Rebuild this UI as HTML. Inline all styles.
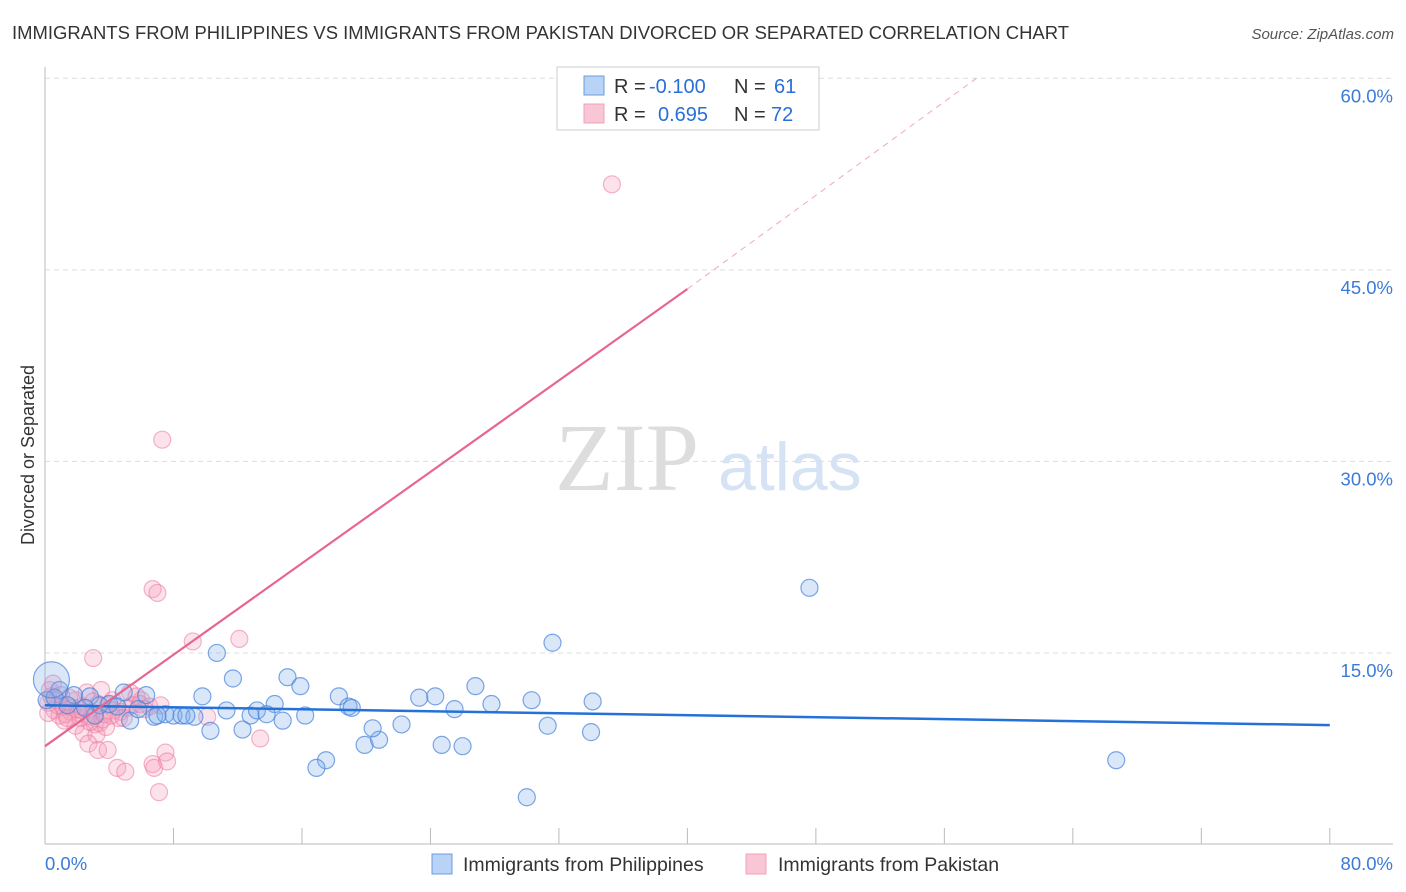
<!DOCTYPE html>
<html><head><meta charset="utf-8"><style>
body{margin:0;background:#fff;font-family:"Liberation Sans",sans-serif;}
svg{display:block}
</style></head><body>
<svg id="c" width="1406" height="892" xmlns="http://www.w3.org/2000/svg">
<text x="12" y="39" font-size="18" fill="#333" textLength="1057" lengthAdjust="spacingAndGlyphs">IMMIGRANTS FROM PHILIPPINES VS IMMIGRANTS FROM PAKISTAN DIVORCED OR SEPARATED CORRELATION CHART</text>
<text x="1394" y="39" font-size="15" fill="#555" font-style="italic" text-anchor="end">Source: ZipAtlas.com</text>
<text x="555" y="490" font-size="96" fill="#ddd" font-family="Liberation Serif">ZIP</text>
<text x="718" y="490" font-size="68" fill="#d5e3f5">atlas</text>
<text transform="translate(34,455) rotate(-90)" font-size="18" fill="#333" text-anchor="middle">Divorced or Separated</text>
<g id="grid"></g><g id="pts"></g><g id="lines"></g>
<g>
<rect x="557" y="67" width="262" height="63" fill="#fff" stroke="#ccc"/>
<rect x="584" y="76" width="20" height="19" fill="#b8d3f5" stroke="#6b9de0"/>
<rect x="584" y="104" width="20" height="19" fill="#f9c6d6" stroke="#f0a0b8"/>
<text x="614" y="93" font-size="20" fill="#333">R = <tspan fill="#2a6fd6" x="649">-0.100</tspan><tspan x="734">N = </tspan><tspan fill="#2a6fd6" x="774">61</tspan></text>
<text x="614" y="121" font-size="20" fill="#333">R = <tspan fill="#2a6fd6" x="658">0.695</tspan><tspan x="734">N = </tspan><tspan fill="#2a6fd6" x="771">72</tspan></text>
</g>
<g>
<rect x="432" y="854" width="20" height="20" fill="#b8d3f5" stroke="#6b9de0"/>
<text x="463" y="871" font-size="19.5" fill="#333">Immigrants from Philippines</text>
<rect x="746" y="854" width="20" height="20" fill="#f9c6d6" stroke="#f0a0b8"/>
<text x="778" y="871" font-size="19.5" fill="#333">Immigrants from Pakistan</text>
</g>
</svg>
<script>
const yTicks=[15,30,45,60];
const yTickLabels=["15.0%","30.0%","45.0%","60.0%"];
const xEndLabels=["0.0%","80.0%"];
const blueX=[10.7,11.7,15.1,15.9,9.8,11.3,12.8,13.2,14.3,13.8,14.8,16.2,18.3,18.9,19.1,19.9,20.8,20.4,17.5,16.9,22.2,23.3,24.3,25.5,26.0,24.7,26.8,27.8,30.3,31.3,30.0,31.6,34.1,34.0,47.6,66.7,0.9,1.8,2.8,4.9,6.3,6.8,7.5,8.0,8.5,9.3,5.3,10.3,12.3,5.8,3.4,4.0,4.5,3.1,1.4,0.1,0.6,2.5,8.8,7.0];
const blueY=[15.0,13.0,13.1,12.4,11.6,10.5,10.1,10.5,11.0,10.2,9.7,10.1,11.6,10.8,10.7,7.8,8.2,9.1,6.6,6.0,9.4,11.5,11.6,10.6,7.7,7.8,12.4,11.0,11.3,9.3,3.7,15.8,11.2,8.8,20.1,6.6,12.1,11.7,11.6,11.9,11.7,10.0,10.2,10.1,10.1,10.0,9.7,8.9,9.0,10.6,10.9,11.0,10.8,10.1,10.9,11.3,11.5,10.7,10.1,10.1];
const pinkX=[35.3,7.3,6.7,7.0,9.2,12.1,3.0,1.9,2.6,3.3,3.9,5.3,5.7,6.0,6.5,7.2,0.3,0.2,0.6,0.9,1.2,1.6,2.2,2.7,3.1,3.4,2.4,3.2,2.7,3.3,3.9,4.5,5.0,6.7,6.8,7.5,7.6,7.1,10.1,13.4,4.7,5.4,3.5,4.2,0.7,1.7,1.1,0.4,1.3,2.0,2.9,3.6,4.3,5.1,5.9,0.5,1.5,2.1,2.8,3.7,4.6,0.8,1.0,1.9,2.3,3.0,4.1,4.9,6.2,0.2,1.4,3.8];
const pinkY=[51.7,31.7,20.0,19.7,15.9,16.1,14.6,11.3,11.9,11.0,10.9,11.9,11.6,11.3,10.8,10.9,12.1,11.1,10.5,10.1,9.7,10.4,9.9,10.1,9.4,9.5,8.7,8.6,7.9,7.4,7.4,6.0,5.7,6.3,6.0,7.2,6.5,4.1,10.0,8.3,10.4,10.9,12.1,11.3,11.3,10.7,10.8,11.6,10.2,10.6,10.0,9.8,10.5,10.7,11.0,12.6,11.5,10.3,9.6,10.2,9.9,10.9,11.7,9.3,10.8,11.2,10.1,9.9,10.6,10.3,9.9,9.2];
const blueLine=[[0,10.9],[80,9.35]];
const pinkLine=[[0,7.7],[40,43.5]];
const pinkDash=[[40,43.5],[58,60.0]];
const NS="http://www.w3.org/2000/svg";
const X=v=>45+v*16.06, Y=v=>844.5-v*12.77;
function mk(t,a,p){const e=document.createElementNS(NS,t);for(const k in a)e.setAttribute(k,a[k]);p.appendChild(e);return e;}
const grid=document.getElementById('grid');
yTicks.forEach((t,i)=>{
 const l=mk('line',{x1:45,x2:1393,y1:Y(t),y2:Y(t),stroke:'#ddd','stroke-dasharray':'5,4'},grid);
 
 
 const tx=mk('text',{x:1393,y:Y(t)+24,'font-size':18.5,fill:'#3b7bd8','text-anchor':'end'},grid);
 tx.textContent=yTickLabels[i];
 
 
});
const ax=mk('line',{x1:45,x2:1393,y1:844,y2:844,stroke:'#bbb'},grid);


const ay=mk('line',{x1:45,x2:45,y1:67,y2:844,stroke:'#bbb'},grid);


for(let i=0;i<=10;i++){const t=mk('line',{x1:X(i*8),x2:X(i*8),y1:828,y2:844,stroke:'#bbb'},grid);
 
 }
const l0=mk('text',{x:45,y:870,'font-size':18.5,fill:'#3b7bd8'},grid);l0.textContent=xEndLabels[0];


const l1=mk('text',{x:1393,y:870,'font-size':18.5,fill:'#3b7bd8','text-anchor':'end'},grid);l1.textContent=xEndLabels[1];


const pts=document.getElementById('pts');
pinkX.forEach((x,i)=>{const c=mk('circle',{cx:X(x),cy:Y(pinkY[i]),r:8.5,fill:'rgba(244,160,188,0.3)',stroke:'rgba(236,120,160,0.55)','stroke-width':1.2},pts);
 
 });
blueX.forEach((x,i)=>{const c=mk('circle',{cx:X(x),cy:Y(blueY[i]),r:8.5,fill:'rgba(130,175,235,0.3)',stroke:'rgba(70,130,220,0.7)','stroke-width':1.2},pts);
 
 });
const big=mk('circle',{cx:X(0.4),cy:Y(12.9),r:18,fill:'rgba(130,175,235,0.3)',stroke:'rgba(70,130,220,0.7)','stroke-width':1.2},pts);


const lines=document.getElementById('lines');
const bl=mk('line',{x1:X(blueLine[0][0]),y1:Y(blueLine[0][1]),x2:X(blueLine[1][0]),y2:Y(blueLine[1][1]),stroke:'#2471d8','stroke-width':2.5},lines);


const pl=mk('line',{x1:X(pinkLine[0][0]),y1:Y(pinkLine[0][1]),x2:X(pinkLine[1][0]),y2:Y(pinkLine[1][1]),stroke:'#e8658f','stroke-width':2.2},lines);


const pd=mk('line',{x1:X(pinkDash[0][0]),y1:Y(pinkDash[0][1]),x2:X(pinkDash[1][0]),y2:Y(pinkDash[1][1]),stroke:'#f0a8bf','stroke-width':1,'stroke-dasharray':'6,5'},lines);


</script>
</body></html>
